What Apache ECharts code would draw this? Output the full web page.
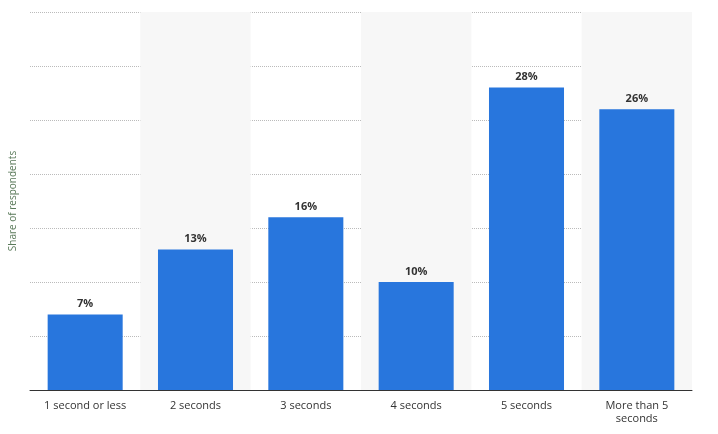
<!DOCTYPE html>
<html><head><meta charset="utf-8">
<script src="https://cdn.jsdelivr.net/npm/echarts@6/dist/echarts.min.js"></script>
<style>html,body{margin:0;padding:0;background:#fff}#c{width:718px;height:434px}</style>
</head><body><div id="c"></div>
<script>
const categories = ['1 second or less','2 seconds','3 seconds','4 seconds','5 seconds','More than 5\nseconds'];
const values = [7,13,16,10,28,26];
const chart = echarts.init(document.getElementById('c'));
chart.setOption({
  animation:false,
  grid:{left:27,right:26,top:12,bottom:44},
  xAxis:{type:'category',data:categories,
    axisLine:{lineStyle:{color:'#333',width:1}},axisTick:{show:false},
    axisLabel:{color:'#333',fontFamily:'Open Sans',fontSize:11,margin:9,lineHeight:13,interval:0},
    splitArea:{show:true,areaStyle:{color:['rgba(0,0,0,0)','#f7f7f7']}}},
  yAxis:{type:'value',min:0,max:35,interval:5,
    name:'Share of respondents',nameLocation:'middle',nameGap:12,
    nameTextStyle:{color:'#5a7a5a',fontFamily:'Open Sans',fontSize:10},
    axisLabel:{show:false},axisLine:{show:false},axisTick:{show:false},
    splitLine:{lineStyle:{color:'#bbb',type:'dotted'}}},
  series:[{type:'bar',data:values,barWidth:'68%',
    itemStyle:{color:'#2876dd'},
    label:{show:true,position:'top',formatter:'{c}%',color:'#333',fontWeight:'bold',fontFamily:'Open Sans',fontSize:11}}]
});
</script></body></html>
